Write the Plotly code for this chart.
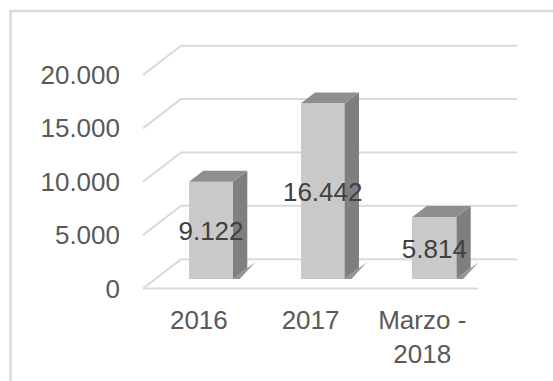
import plotly.graph_objects as go

# Data
categories = ["2016", "2017", "Marzo -<br>2018"]
values = [9122, 16442, 5814]
y_ticks = [0, 5000, 10000, 15000, 20000]

# Canvas / plot area geometry (pixels)
W, H = 553, 381
L, R, T, B = 143, 517, 40, 295
CAT_PX = 111.7            # pixels per category slot on the front plane
ZERO_PX = 288.5           # pixel row of value 0 on the front plane
K = 0.010675              # pixels per unit on the value axis

x_min = -0.5
x_max = x_min + (R - L) / CAT_PX
y_min = -(B - ZERO_PX) / K
y_max = (ZERO_PX - T) / K

# Oblique depth of the pseudo-3D box (data units)
DEPTH_X = 38 / CAT_PX
DEPTH_Y = 29.3 / K
BAR_POS = 0.32            # depth fraction of the bar front faces
BAR_DEPTH = 0.376         # depth fraction of the bars themselves
BAR_W = 0.394

GRID = "#d9d9d9"
FRONT = "#c9c9c9"
TOP = "#8e8e8e"
SIDE = "#7f7f7f"
AXIS_TXT = "#595959"
LABEL_TXT = "#404040"
FONT = "Liberation Sans, Arial, sans-serif"


def fmt(v):
    return f"{v:,}".replace(",", ".")


fig = go.Figure()

shapes = []
# Walls: left diagonal + back horizontal gridline per tick
for t in y_ticks:
    bx, by = x_min + DEPTH_X, t + DEPTH_Y
    shapes.append(dict(type="line", xref="x", yref="y", x0=x_min, y0=t, x1=bx, y1=by,
                       line=dict(color=GRID, width=2), layer="below"))
    shapes.append(dict(type="line", xref="x", yref="y", x0=bx, y0=by, x1=x_max, y1=by,
                       line=dict(color=GRID, width=2), layer="below"))
# Front edge of the floor
shapes.append(dict(type="line", xref="x", yref="y", x0=x_min, y0=0, x1=2.5, y1=0,
                   line=dict(color=GRID, width=2), layer="below"))

# Chart-area border
def px_x(p):
    return (p - L) / (R - L)


def px_y(p):
    return (B - p) / (B - T)


shapes.append(dict(type="rect", xref="paper", yref="paper",
                   x0=px_x(10.5), x1=px_x(W + 20), y0=px_y(H + 20), y1=px_y(11),
                   line=dict(color=GRID, width=2.5), fillcolor="rgba(0,0,0,0)", layer="below"))

# Bar geometry
off_x = BAR_POS * DEPTH_X
base = BAR_POS * DEPTH_Y
dx = BAR_DEPTH * DEPTH_X
dy = BAR_DEPTH * DEPTH_Y
centers = [i + off_x for i in range(len(values))]

# Front faces
fig.add_trace(go.Bar(x=centers, y=values, base=base, width=BAR_W,
                     marker=dict(color=FRONT, line=dict(width=0)),
                     hoverinfo="skip", showlegend=False))

for c, v in zip(centers, values):
    xl, xr = c - BAR_W / 2, c + BAR_W / 2
    yb, yt = base, base + v
    # floor shadow beside the bar
    fig.add_trace(go.Scatter(
        x=[xr, xr + 0.06, xr + dx + 0.07, xr + dx, xr],
        y=[yb, yb, yb + dy + 560, yb + dy, yb],
        fill="toself", fillcolor="rgba(110,110,110,0.75)", mode="lines",
        line=dict(width=0), hoverinfo="skip", showlegend=False))
    # side face
    fig.add_trace(go.Scatter(
        x=[xr, xr, xr + dx, xr + dx, xr],
        y=[yb, yt, yt + dy, yb + dy, yb],
        fill="toself", fillcolor=SIDE, mode="lines",
        line=dict(width=0), hoverinfo="skip", showlegend=False))
    # top face
    fig.add_trace(go.Scatter(
        x=[xl, xr, xr + dx, xl + dx, xl],
        y=[yt, yt, yt + dy, yt + dy, yt],
        fill="toself", fillcolor=TOP, mode="lines",
        line=dict(width=0), hoverinfo="skip", showlegend=False))

# Value labels in the middle of each bar
fig.add_trace(go.Scatter(
    x=centers, y=[base + v / 2 - 330 for v in values],
    mode="text", text=[fmt(v) for v in values], textposition="middle center",
    textfont=dict(family=FONT, size=26, color=LABEL_TXT),
    hoverinfo="skip", showlegend=False))

fig.update_layout(
    width=W, height=H,
    margin=dict(l=L, r=W - R, t=T, b=H - B, pad=0),
    paper_bgcolor="white", plot_bgcolor="white",
    separators=",.",
    shapes=shapes,
    xaxis=dict(range=[x_min, x_max], tickvals=[0, 1, 2], ticktext=categories,
               showgrid=False, zeroline=False, showline=False, ticks="",
               tickfont=dict(family=FONT, size=26, color=AXIS_TXT),
               ticklabelstandoff=7, fixedrange=True),
    yaxis=dict(range=[y_min, y_max], tickvals=y_ticks, tickformat=",.0f",
               showgrid=False, zeroline=False, showline=False, ticks="",
               tickfont=dict(family=FONT, size=26, color=AXIS_TXT),
               ticklabelstandoff=22, fixedrange=True),
    bargap=0,
)

fig.write_html("out.html")
